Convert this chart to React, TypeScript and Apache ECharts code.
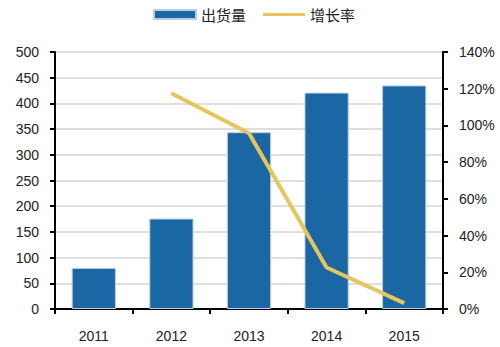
import React, { useEffect, useRef } from "react";
import * as echarts from "echarts";

const categories = ["2011", "2012", "2013", "2014", "2015"];
const shipments = [80, 176, 344, 421, 435];
const growth = [null, 117.5, 95.7, 22.6, 3.2];
const leftTicks = [0, 500, 50];
const rightTicks = [0, 140, 20];

export default function App() {
  const ref = useRef<HTMLDivElement>(null);
  useEffect(() => {
    const chart = echarts.init(ref.current!, null, { renderer: "svg" });
    const font = "Liberation Sans, Arial, sans-serif";
    chart.setOption({
      animation: false,
      backgroundColor: "#ffffff",
      legend: {
        top: 2,
        left: 148,
        itemWidth: 42,
        itemHeight: 9,
        itemGap: 17,
        textStyle: { fontFamily: "Noto Sans CJK SC", fontSize: 15, color: "#222" },
        data: [
          { name: "出货量", icon: "rect" },
          { name: "增长率", icon: "path://M0,0 L42,0 L42,3 L0,3 Z", itemStyle: { color: "#E6C55E" } },
        ],
      },
      grid: { left: 55, right: 57, top: 52, bottom: 38 },
      xAxis: {
        type: "category",
        data: categories,
        axisLine: { lineStyle: { color: "#000", width: 2 } },
        axisTick: { show: true, length: 5, inside: false, lineStyle: { color: "#000", width: 2 } },
        axisLabel: { fontFamily: font, fontSize: 14, color: "#222", margin: 20 },
      },
      yAxis: [
        {
          type: "value",
          min: leftTicks[0],
          max: leftTicks[1],
          interval: leftTicks[2],
          axisLine: { show: true, lineStyle: { color: "#000", width: 2 } },
          axisTick: { show: true, length: 5, lineStyle: { color: "#000", width: 2 } },
          axisLabel: { fontFamily: font, fontSize: 14, color: "#222", margin: 16 },
          splitLine: { show: true, lineStyle: { color: "#D4D4D4", width: 1.5 } },
        },
        {
          type: "value",
          min: rightTicks[0],
          max: rightTicks[1],
          interval: rightTicks[2],
          position: "right",
          axisLine: { show: true, lineStyle: { color: "#000", width: 2 } },
          axisTick: { show: true, length: 5, lineStyle: { color: "#000", width: 2 } },
          axisLabel: { fontFamily: font, fontSize: 14, color: "#222", margin: 16, formatter: "{value}%" },
          splitLine: { show: false },
        },
      ],
      series: [
        {
          name: "出货量",
          type: "bar",
          data: shipments,
          barWidth: "57%",
          itemStyle: { color: "#1A67A3", borderColor: "#B8CFE3", borderWidth: 1 },
        },
        {
          name: "增长率",
          type: "line",
          yAxisIndex: 1,
          data: growth,
          symbol: "none",
          lineStyle: { color: "#E6C55E", width: 4 },
          itemStyle: { color: "#E6C55E" },
        },
      ],
    });
    return () => chart.dispose();
  }, []);
  return (
    <div
      ref={ref}
      style={{ position: "fixed", left: 0, top: 0, width: 500, height: 347 }}
    />
  );
}
